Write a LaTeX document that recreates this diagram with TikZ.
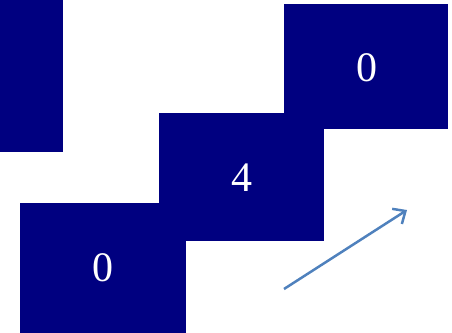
\documentclass[tikz,border=0pt]{standalone}
\usepackage{fontspec}
\setmainfont{Liberation Serif}
\usetikzlibrary{arrows.meta}
\definecolor{navybox}{HTML}{000080}
\definecolor{arrowblue}{HTML}{4F81BD}
\begin{document}
\begin{tikzpicture}[x=1pt,y=-1pt,
  cell/.style={fill=navybox},
  num/.style={text=white,font=\fontsize{42}{50}\selectfont,inner sep=0pt}]
\useasboundingbox (0,0) rectangle (452,332);
\path[cell] (-2,-2) rectangle (63,152);
\path[cell] (20,203) rectangle (186,334);
\path[cell] (284,4) rectangle (448,129);
\path[cell] (159,113) rectangle (324,241);
\node[num] (a) at (103,268) {0};
\node[num] (b) at (242,178) {4};
\node[num] (c) at (367,68) {0};
\coordinate (s) at (284,289);
\coordinate (e) at (407,210);
\draw[arrowblue,line width=2.5pt,-{Straight Barb[length=10pt,width=18pt,line width=2.5pt]}] (s) -- (e);
\end{tikzpicture}
\end{document}
